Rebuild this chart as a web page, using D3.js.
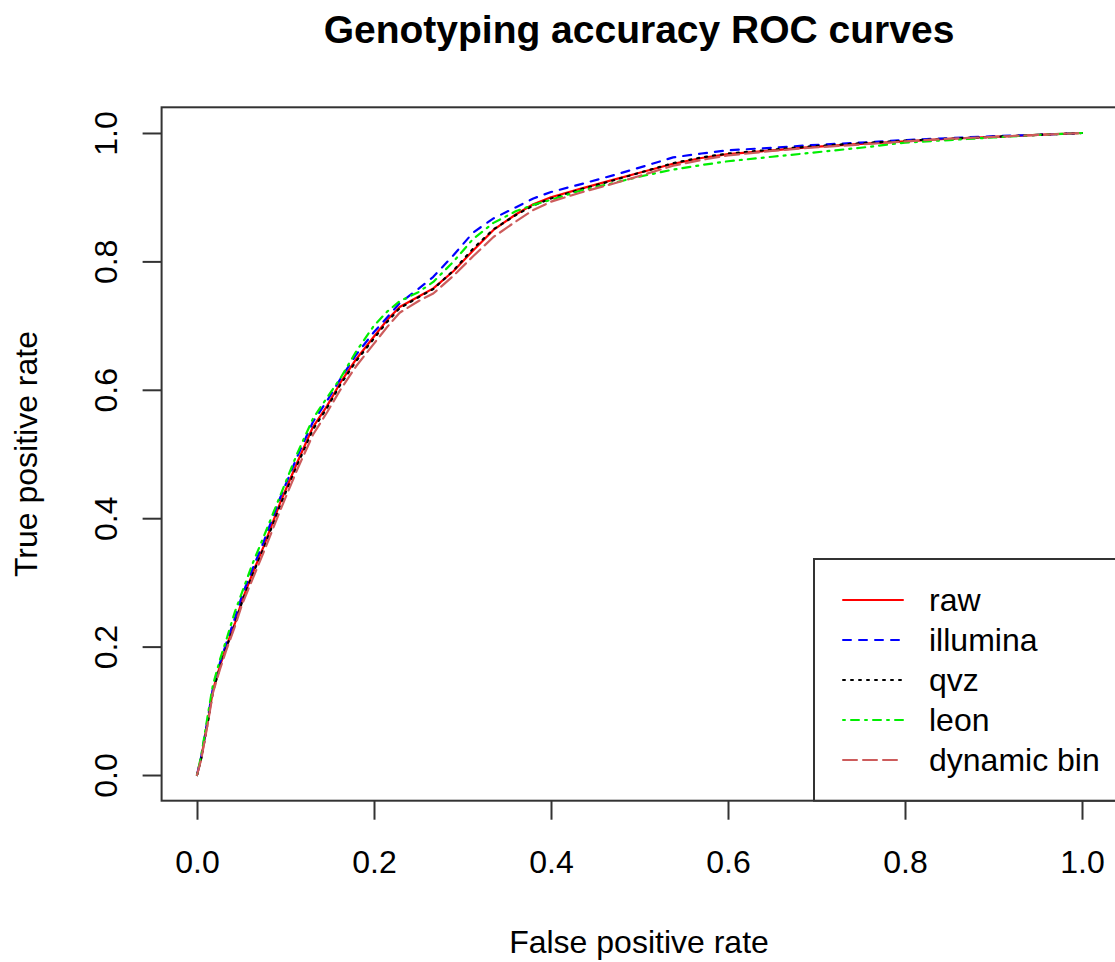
<!DOCTYPE html>
<html>
<head>
<meta charset="utf-8">
<script src="https://cdn.jsdelivr.net/npm/d3@7"></script>
<style>
  body { margin: 0; background: #fff; }
  text { font-family: "Liberation Sans", Arial, Helvetica, sans-serif; fill: #000; }
</style>
</head>
<body>
<svg id="roc" width="1115" height="962"></svg>
<script>
// false positive rate grid shared by all curves
var fpr = [0, 0.005, 0.013, 0.018, 0.026, 0.033, 0.043, 0.051, 0.063, 0.075, 0.094,
  0.113, 0.131, 0.147, 0.162, 0.18, 0.2, 0.215, 0.229, 0.25, 0.267, 0.29, 0.312,
  0.335, 0.36, 0.38, 0.4, 0.433, 0.47, 0.5, 0.538, 0.57, 0.6, 0.65, 0.693, 0.75,
  0.8, 0.85, 0.9, 0.95, 1];

// true positive rate per method
var tprRaw = [0, 0.028, 0.09, 0.132, 0.17, 0.2, 0.237, 0.272, 0.315, 0.355, 0.424,
  0.486, 0.542, 0.575, 0.611, 0.648, 0.683, 0.709, 0.729, 0.745, 0.758, 0.785, 0.817,
  0.849, 0.873, 0.889, 0.9, 0.913, 0.927, 0.938, 0.952, 0.961, 0.967, 0.973, 0.978,
  0.983, 0.987, 0.991, 0.994, 0.997, 1];
var tprIllumina = [0, 0.03, 0.095, 0.135, 0.175, 0.205, 0.245, 0.28, 0.322, 0.362, 0.432,
  0.495, 0.55, 0.583, 0.617, 0.655, 0.69, 0.713, 0.735, 0.757, 0.776, 0.81, 0.845,
  0.867, 0.884, 0.898, 0.908, 0.92, 0.934, 0.946, 0.962, 0.968, 0.973, 0.977, 0.981,
  0.985, 0.989, 0.992, 0.995, 0.997, 1];
var tprQvz = [0, 0.027, 0.088, 0.13, 0.168, 0.198, 0.235, 0.27, 0.313, 0.352, 0.42,
  0.482, 0.538, 0.572, 0.608, 0.645, 0.68, 0.706, 0.727, 0.744, 0.757, 0.786, 0.82,
  0.85, 0.872, 0.887, 0.898, 0.912, 0.926, 0.938, 0.953, 0.962, 0.968, 0.974, 0.979,
  0.984, 0.988, 0.991, 0.994, 0.997, 1];
var tprLeon = [0, 0.032, 0.1, 0.14, 0.18, 0.21, 0.255, 0.285, 0.33, 0.37, 0.435,
  0.5, 0.555, 0.588, 0.618, 0.66, 0.7, 0.722, 0.738, 0.752, 0.768, 0.8, 0.835,
  0.86, 0.878, 0.888, 0.896, 0.91, 0.922, 0.932, 0.943, 0.95, 0.956, 0.963, 0.969,
  0.977, 0.985, 0.989, 0.993, 0.997, 1];
var tprDynamic = [0, 0.026, 0.087, 0.128, 0.165, 0.194, 0.232, 0.266, 0.306, 0.346, 0.412,
  0.475, 0.53, 0.565, 0.6, 0.637, 0.672, 0.698, 0.72, 0.738, 0.75, 0.778, 0.808,
  0.838, 0.862, 0.88, 0.893, 0.907, 0.921, 0.933, 0.949, 0.958, 0.965, 0.972, 0.977,
  0.982, 0.987, 0.991, 0.994, 0.997, 1];

var seriesNames = ["raw", "illumina", "qvz", "leon", "dynamic bin"];
var seriesValues = [tprRaw, tprIllumina, tprQvz, tprLeon, tprDynamic];
var seriesColors = ["#ff0000", "#0000ff", "#000000", "#00ee00", "#cd5c5c"];
var seriesDash = [null, "8,8", "2,6", "2,6,8,6", "14,6"];

var tickValues = [0, 0.2, 0.4, 0.6, 0.8, 1.0];

var svg = d3.select("#roc");

// R style plot region, axes padded 4% on each side
var xScale = d3.scaleLinear()
    .domain([-0.04, 1.04])
    .range([161.6, 1117.4]);

var yScale = d3.scaleLinear()
    .domain([-0.04, 1.04])
    .range([800.7, 107.3]);

// title
svg.append("text")
    .attr("x", 639)
    .attr("y", 43)
    .attr("text-anchor", "middle")
    .style("font-size", "39px")
    .style("font-weight", "bold")
    .text("Genotyping accuracy ROC curves");

// x axis
var xAxis = svg.append("g")
    .attr("transform", "translate(0," + yScale.range()[0] + ")")
    .call(d3.axisBottom(xScale)
      .tickValues(tickValues)
      .tickFormat(d3.format(".1f"))
      .tickSize(19)
      .tickSizeOuter(0)
      .tickPadding(31));

xAxis.select(".domain").remove();
xAxis.selectAll("line").attr("stroke", "#333").attr("stroke-width", 2);
xAxis.selectAll("text")
    .style("font-size", "32px")
    .style("font-family", "'Liberation Sans', Arial, sans-serif")
    .attr("fill", "#111");

// y axis, labels rotated like R's default las=0
var yAxis = svg.append("g")
    .attr("transform", "translate(" + xScale.range()[0] + ",0)")
    .call(d3.axisLeft(yScale)
      .tickValues(tickValues)
      .tickFormat(d3.format(".1f"))
      .tickSize(19)
      .tickSizeOuter(0));

yAxis.select(".domain").remove();
yAxis.selectAll("line").attr("stroke", "#333").attr("stroke-width", 2);
yAxis.selectAll("text")
    .attr("x", null)
    .attr("dy", null)
    .attr("text-anchor", "middle")
    .attr("transform", "translate(-44.6,0) rotate(-90)")
    .style("font-size", "32px")
    .style("font-family", "'Liberation Sans', Arial, sans-serif")
    .attr("fill", "#111");

// axis titles
svg.append("text")
    .attr("x", 639)
    .attr("y", 953)
    .attr("text-anchor", "middle")
    .style("font-size", "32px")
    .text("False positive rate");

svg.append("text")
    .attr("transform", "translate(37,454) rotate(-90)")
    .attr("text-anchor", "middle")
    .style("font-size", "32px")
    .text("True positive rate");

// curves
var line = d3.line()
    .x(function(d) { return xScale(d[0]); })
    .y(function(d) { return yScale(d[1]); });

seriesValues.forEach(function(vals, i) {
  var pts = fpr.map(function(f, j) { return [f, vals[j]]; });
  svg.append("path")
      .datum(pts)
      .attr("fill", "none")
      .attr("stroke", seriesColors[i])
      .attr("stroke-width", 2.2)
      .attr("stroke-linejoin", "round")
      .attr("stroke-linecap", "round")
      .attr("stroke-dasharray", seriesDash[i])
      .attr("d", line);
});

// plot box
svg.append("rect")
    .attr("x", xScale.range()[0])
    .attr("y", yScale.range()[1])
    .attr("width", xScale.range()[1] - xScale.range()[0])
    .attr("height", yScale.range()[0] - yScale.range()[1])
    .attr("fill", "none")
    .attr("stroke", "#333")
    .attr("stroke-width", 2);

// legend (bottom right, runs off the edge like the original)
var legend = svg.append("g");

legend.append("rect")
    .attr("x", 814)
    .attr("y", 559)
    .attr("width", 400)
    .attr("height", yScale.range()[0] - 559)
    .attr("fill", "#fff")
    .attr("stroke", "#333")
    .attr("stroke-width", 2);

var rowY = d3.scalePoint()
    .domain(seriesNames)
    .range([600, 760]);

seriesNames.forEach(function(name, i) {
  legend.append("line")
      .attr("x1", 843)
      .attr("x2", 903)
      .attr("y1", rowY(name))
      .attr("y2", rowY(name))
      .attr("stroke", seriesColors[i])
      .attr("stroke-width", 2)
      .attr("stroke-linecap", "round")
      .attr("stroke-dasharray", seriesDash[i]);

  legend.append("text")
      .attr("x", 929)
      .attr("y", rowY(name))
      .attr("dy", "0.33em")
      .style("font-size", "32px")
      .attr("fill", "#111")
      .text(name);
});
</script>
</body>
</html>
